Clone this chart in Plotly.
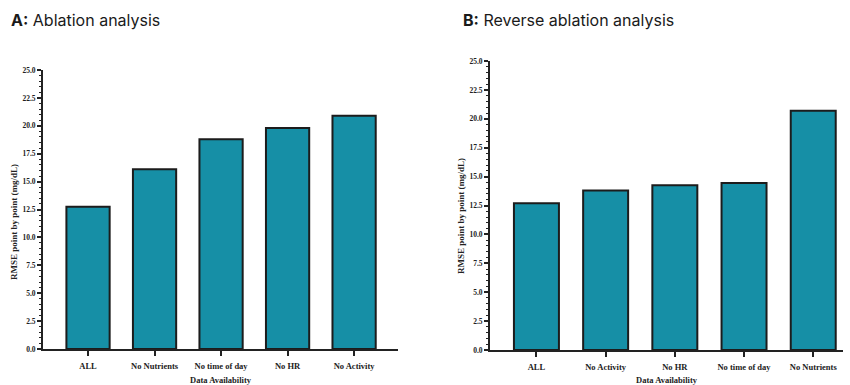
import plotly.graph_objects as go

cats_a = ["ALL", "No Nutrients", "No time of day", "No HR", "No Activity"]
vals_a = [12.75, 16.1, 18.8, 19.8, 20.9]
cats_b = ["ALL", "No Activity", "No HR", "No time of day", "No Nutrients"]
vals_b = [12.7, 13.8, 14.25, 14.45, 20.7]
yticks = [0, 2.5, 5, 7.5, 10, 12.5, 15, 17.5, 20, 22.5, 25]

BAR = "#168FA6"
EDGE = "#1c1c1c"
serif = "Liberation Serif"

fig = go.Figure()
fig.add_trace(go.Bar(x=cats_a, y=vals_a, xaxis="x", yaxis="y", width=0.65,
                     marker=dict(color=BAR, line=dict(color=EDGE, width=2)), showlegend=False))
fig.add_trace(go.Bar(x=cats_b, y=vals_b, xaxis="x2", yaxis="y2", width=0.65,
                     marker=dict(color=BAR, line=dict(color=EDGE, width=2)), showlegend=False))

xtickfont = dict(family=serif, size=8.5, color="#222", weight="bold")
ytickfont = dict(family=serif, size=7.5, color="#222", weight="bold")
common_x = dict(type="category", showline=True, linecolor="#222", linewidth=2,
                ticks="outside", ticklen=5, tickwidth=1.5, tickcolor="#222",
                showgrid=False, zeroline=False, tickfont=xtickfont, automargin=False,
                ticklabelstandoff=3)
common_y = dict(range=[0, 25], tickvals=yticks, tickformat=".1f", showline=True,
                linecolor="#222", linewidth=2, ticks="outside", ticklen=4, tickwidth=1.5,
                tickcolor="#222", showgrid=False, zeroline=False, automargin=False,
                tickfont=ytickfont,
                minor=dict(dtick=0.5, ticks="outside", ticklen=2, tickwidth=1, tickcolor="#222"))
xtitlefont = dict(family=serif, size=8.5, color="#222", weight="bold")
ytitlefont = dict(family=serif, size=9, color="#222", weight="bold")

ylab = "RMSE point by point (mg/dL)"

fig.update_layout(
    width=850, height=385, margin=dict(l=0, r=0, t=0, b=0),
    plot_bgcolor="white", paper_bgcolor="white", bargap=0.35,
    xaxis=dict(domain=[43/850, 398/850], range=[-0.677, 4.66], anchor="y",
               title=dict(text="Data Availability", font=xtitlefont, standoff=9),
               **common_x),
    yaxis=dict(domain=[(385-349)/385, (385-70)/385], anchor="x", **common_y),
    xaxis2=dict(domain=[490/850, 843/850], range=[-0.671, 4.43], anchor="y2",
                title=dict(text="Data Availability", font=xtitlefont, standoff=9),
                **common_x),
    yaxis2=dict(domain=[(385-350)/385, (385-61)/385], anchor="x2", **common_y),
    annotations=[
        dict(text="<b>A:</b> Ablation analysis", x=9/850, y=(385-20)/385, xref="paper", yref="paper",
             xanchor="left", yanchor="middle", showarrow=False,
             font=dict(family="Inter", size=16, color="#1a1a1a")),
        dict(text="<b>B:</b> Reverse ablation analysis", x=461/850, y=(385-20)/385, xref="paper", yref="paper",
             xanchor="left", yanchor="middle", showarrow=False,
             font=dict(family="Inter", size=16, color="#1a1a1a")),
        dict(text=ylab, x=14/850, y=(385-222)/385, xref="paper", yref="paper", textangle=-90,
             xanchor="center", yanchor="middle", showarrow=False, font=ytitlefont),
        dict(text=ylab, x=461/850, y=(385-216)/385, xref="paper", yref="paper", textangle=-90,
             xanchor="center", yanchor="middle", showarrow=False, font=ytitlefont),
    ],
)

fig.write_html("out.html")
